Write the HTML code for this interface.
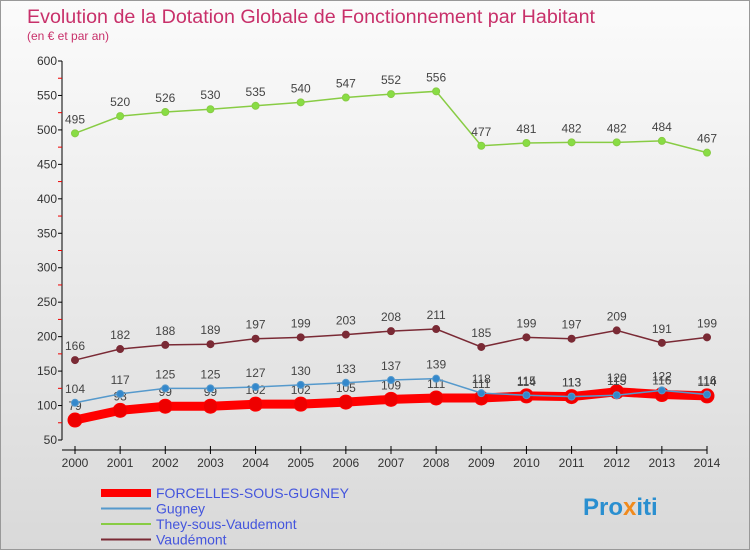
<!DOCTYPE html>
<html><head><meta charset="utf-8"><style>
body{margin:0;width:750px;height:550px;overflow:hidden;font-family:"Liberation Sans",sans-serif}
#wrap{position:relative;width:748px;height:548px;border:1px solid #999;background:linear-gradient(#fbfbfb,#d9d9d9)}
</style></head><body>
<div id="wrap">
<svg id="c" width="748" height="548" xmlns="http://www.w3.org/2000/svg">
<text x="26" y="22" font-size="19.7" fill="#c8306a">Evolution de la Dotation Globale de Fonctionnement par Habitant</text>
<text x="26" y="39" font-size="12" fill="#c8306a">(en € et par an)</text>
</svg>
</div>
<script>
const years=[2000,2001,2002,2003,2004,2005,2006,2007,2008,2009,2010,2011,2012,2013,2014];
const forcelles=[79,93,99,99,102,102,105,109,111,111,114,113,120,116,114];
const gugney=[104,117,125,125,127,130,133,137,139,118,115,113,115,122,116];
const they=[495,520,526,530,535,540,547,552,556,477,481,482,482,484,467];
const vaudemont=[166,182,188,189,197,199,203,208,211,185,199,197,209,191,199];
const yTicks=[50,100,150,200,250,300,350,400,450,500,550,600];
const svg=document.getElementById('c');const NS='http://www.w3.org/2000/svg';
function X(i){return 74+i*(632/14);}
function Y(v){return 439-(v-50)*(379/550);}
function mk(t,a,p){const e=document.createElementNS(NS,t);for(const k in a)e.setAttribute(k,a[k]);(p||svg).appendChild(e);return e;}
const ax=mk('path',{d:`M61,${Y(600)}V${Y(50)}M61,${Y(50)+10}H${X(14)}`,stroke:'#000',fill:'none'});


yTicks.forEach(v=>{
 const t=mk('text',{x:56,y:Y(v)+4,'font-size':12,fill:'#333','text-anchor':'end'});t.textContent=v;
 
 
 mk('line',{x1:57,x2:61,y1:Y(v),y2:Y(v),stroke:'#000'});
 if(v<600)mk('line',{x1:57,x2:61,y1:Y(v+25),y2:Y(v+25),stroke:'#e00'});
});
years.forEach((yr,i)=>{
 mk('line',{x1:X(i),x2:X(i),y1:Y(50)+6,y2:Y(50)+14,stroke:'#000'});
 const t=mk('text',{x:X(i),y:Y(50)+27,'font-size':12,fill:'#333','text-anchor':'middle'});t.textContent=yr;
 
 
});
function series(name,data,color,w,r,mfill){
 const g=mk('g',{});
 
 
 mk('polyline',{points:data.map((v,i)=>X(i)+','+Y(v)).join(' '),fill:'none',stroke:color,'stroke-width':w},g);
 data.forEach((v,i)=>{
  const c=mk('circle',{cx:X(i),cy:Y(v),r:r,fill:mfill,stroke:color,'stroke-width':1},g);
  
  
  const t=mk('text',{x:X(i),y:Y(v)-10,'font-size':12,fill:'#444','text-anchor':'middle'},g);t.textContent=v;
 });
}
series('vaudemont',vaudemont,'#7a2a35',1.5,3.5,'#7a2a35');
series('they',they,'#88cc44',1.5,3.5,'#88dd44');
series('forcelles',forcelles,'#ff0000',9,7,'#ee0000');
series('gugney',gugney,'#5599cc',1.5,3.5,'#3388cc');
const leg=[['FORCELLES-SOUS-GUGNEY','#ff0000',8],['Gugney','#5599cc',2],['They-sous-Vaudemont','#88cc44',2],['Vaudémont','#7a2a35',2]];
leg.forEach((l,i)=>{
 const y=492+i*15.5;
 const g=mk('g',{});
 
 
 mk('line',{x1:100,x2:150,y1:y,y2:y,stroke:l[1],'stroke-width':l[2]},g);
 const t=mk('text',{x:155,y:y+5,'font-size':14,fill:'#4455dd'},g);t.textContent=l[0];
});
const lg=mk('text',{x:582,y:514,'font-size':24,'font-weight':'bold',fill:'#2a8fd0'});
lg.innerHTML='Pro<tspan fill="#f08a1c">x</tspan>iti';


</script>
</body></html>
